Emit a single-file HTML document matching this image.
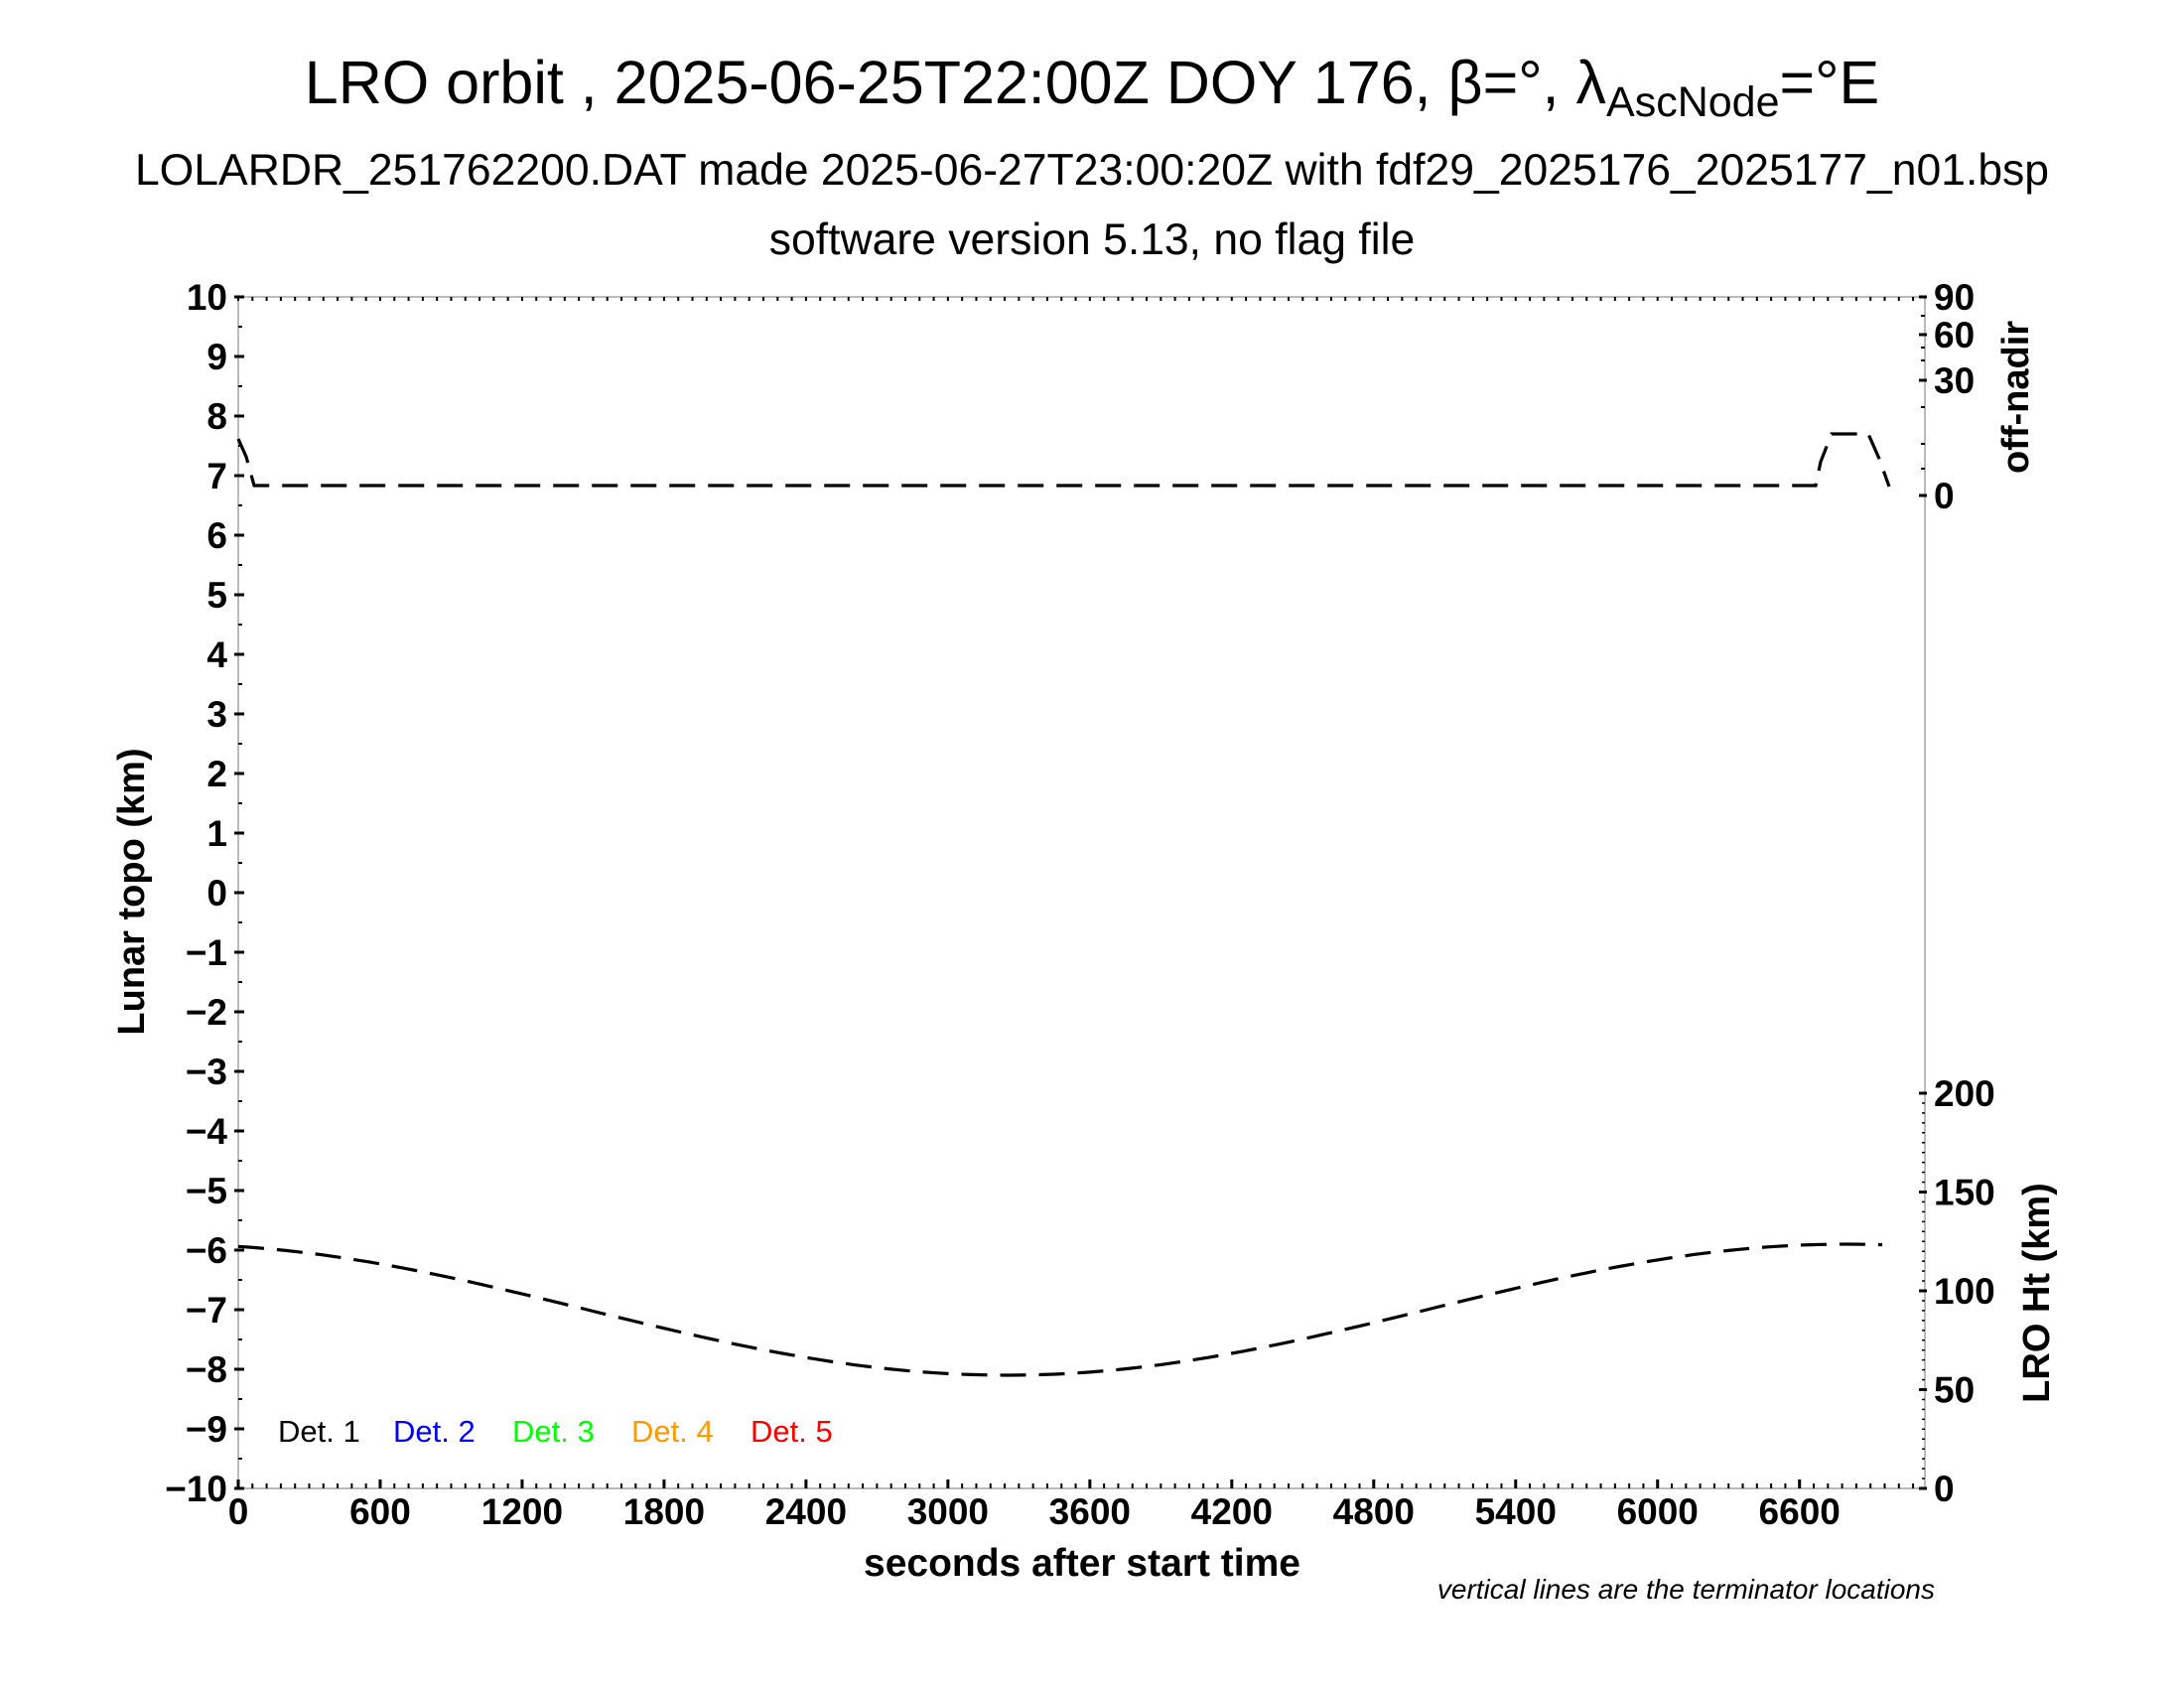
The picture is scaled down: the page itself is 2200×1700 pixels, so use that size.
<!DOCTYPE html>
<html><head><meta charset="utf-8"><style>
html,body{margin:0;padding:0;background:#fff;}
svg{display:block;font-family:"Liberation Sans",sans-serif;}
</style></head><body>
<svg id="s" width="2200" height="1700" viewBox="0 0 2200 1700" xmlns="http://www.w3.org/2000/svg">
<text x="1100" y="104" font-size="61" text-anchor="middle">LRO orbit , 2025-06-25T22:00Z DOY 176, β=°, λ<tspan font-size="43" dy="13">AscNode</tspan><tspan dy="-13">=°E</tspan></text>
<text x="1100" y="186" font-size="44.5" text-anchor="middle">LOLARDR_251762200.DAT made 2025-06-27T23:00:20Z with fdf29_2025176_2025177_n01.bsp</text>
<text x="1100" y="256" font-size="44.5" text-anchor="middle">software version 5.13, no flag file</text>
<g id="ax" stroke="#bbb" stroke-width="2" fill="none">
<line x1="240" y1="299" x2="240" y2="1499"/>
<line x1="240" y1="1499" x2="1939" y2="1499"/>
<line x1="1939" y1="299" x2="1939" y2="1499"/>
<line x1="240" y1="299" x2="1939" y2="299"/>
</g>
<g id="tk" stroke="#000" stroke-width="3"></g>
<g id="lb" font-size="37" font-weight="bold"></g>
<text x="1090" y="1587" font-size="39" font-weight="bold" text-anchor="middle">seconds after start time</text>
<text x="1949" y="1610" font-size="28" font-style="italic" text-anchor="end">vertical lines are the terminator locations</text>
<text transform="translate(145,898) rotate(-90)" font-size="38" font-weight="bold" text-anchor="middle">Lunar topo (km)</text>
<text transform="translate(2043,400) rotate(-90)" font-size="38" font-weight="bold" text-anchor="middle">off-nadir</text>
<text transform="translate(2064,1302) rotate(-90)" font-size="38" font-weight="bold" text-anchor="middle">LRO Ht (km)</text>
<g font-size="31">
<text x="280" y="1452">Det. 1</text>
<text x="396" y="1452" fill="#00f">Det. 2</text>
<text x="516" y="1452" fill="#0f0">Det. 3</text>
<text x="636" y="1452" fill="#f90">Det. 4</text>
<text x="756" y="1452" fill="#f00">Det. 5</text>
</g>
<path id="c1" fill="none" stroke="#000" stroke-width="3.2" stroke-dasharray="26,13"/>
<path d="M240,442 L248,460 L256,489 L1829,489 L1834,465 L1845,437 L1882,437 L1893,462 L1903,490" fill="none" stroke="#000" stroke-width="3.2" stroke-dasharray="26,13"/>
</svg>
<script>
var NS="http://www.w3.org/2000/svg";
var tk=document.getElementById("tk"),lb=document.getElementById("lb");
function L(x1,y1,x2,y2,w){var e=document.createElementNS(NS,"line");e.setAttribute("x1",x1);e.setAttribute("y1",y1);e.setAttribute("x2",x2);e.setAttribute("y2",y2);if(w)e.setAttribute("stroke-width",w);tk.appendChild(e);}
function T(x,y,s,a){var e=document.createElementNS(NS,"text");e.setAttribute("x",x);e.setAttribute("y",y);e.setAttribute("text-anchor",a);e.textContent=s;lb.appendChild(e);}
var px=1699/7130;
for(var v=-10;v<=10;v++){var y=299+(10-v)*60;L(236,y,246,y);T(229,y+13,(v<0?"\u2212"+(-v):""+v),"end");}
for(var v=-9.5;v<10;v+=1){var y=299+(10-v)*60;L(240,y,244,y,2);}
for(var s=0;s<=7100;s+=60){var x=240+s*px;var maj=(s%600==0);
 L(x,1499,x,maj?1490:1494,maj?3:2);L(x,299,x,303,2);
 if(maj)T(x,1535,""+s,"middle");}
var on=[[90,299],[60,337],[30,383],[0,499]];
on.forEach(function(p){L(1933,p[1],1941,p[1]);T(1948,p[1]+13,""+p[0],"start");});
[318,350,363,410,447,472].forEach(function(y){L(1935,y,1939,y,2);});
for(var h=0;h<=200;h+=50){var y=1499-h*1.99;L(1933,y,1941,y);T(1948,y+13,""+h,"start");}
for(var h=5;h<200;h+=5){if(h%50==0)continue;var y=1499-h*1.99;L(1936,y,1939,y,1.5);}
var d="";for(var t=0;t<=6980;t+=50){var km=-7.0+1.1*Math.cos(2*Math.PI*(t-6800)/7100);var x=240+t*px,y=299+(10-km)*60;d+=(t?"L":"M")+x.toFixed(1)+","+y.toFixed(1);}
document.getElementById("c1").setAttribute("d",d);
</script>
</body></html>
